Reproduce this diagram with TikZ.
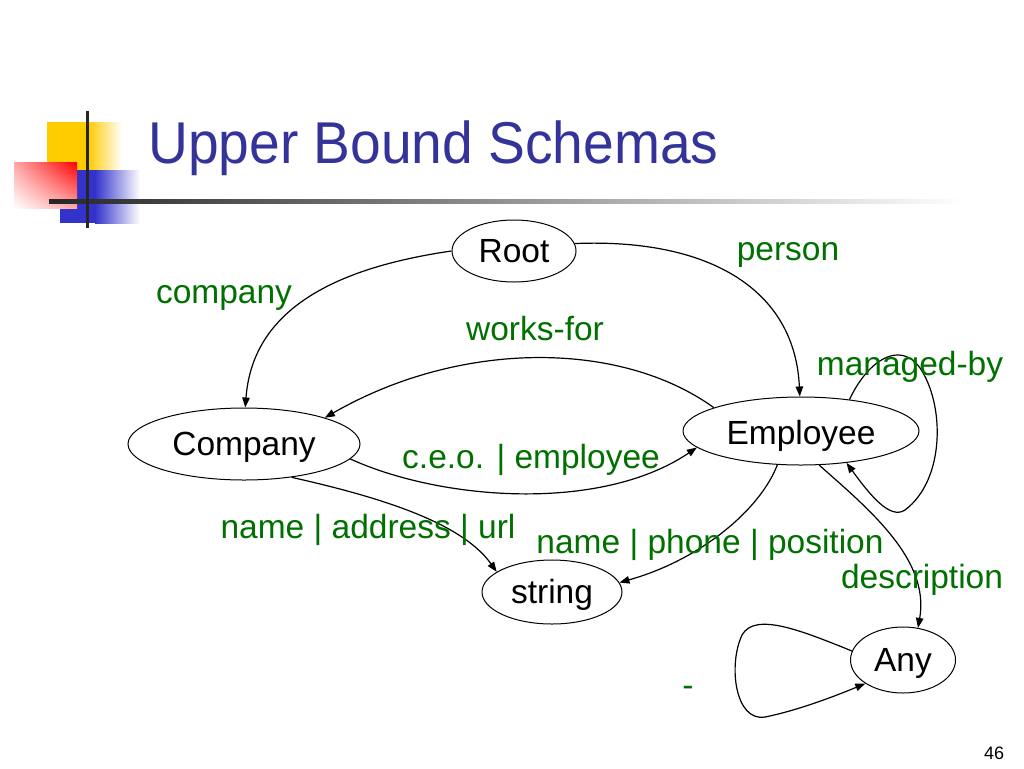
\documentclass[tikz,border=0pt]{standalone}
\usepackage{fontspec}
\setmainfont{Liberation Sans}
\usetikzlibrary{shapes.geometric,arrows.meta,shadings}
\definecolor{titleblue}{RGB}{51,51,153}
\definecolor{lblgreen}{RGB}{0,112,0}
\definecolor{logoyellow}{RGB}{255,204,0}
\definecolor{logoblue}{RGB}{51,51,204}
\definecolor{logored}{RGB}{255,0,0}
\begin{document}
\begin{tikzpicture}[x=1pt,y=-1pt,
  state/.style={ellipse,draw,line width=1pt,inner sep=0pt,text height=26pt,text depth=4pt,
    font=\fontsize{33.5}{40}\selectfont},
  lbl/.style={text=lblgreen,inner sep=0pt,anchor=base,font=\fontsize{33.5}{40}\selectfont},
  edge/.style={line width=1.2pt,-{Triangle[length=10pt,width=7.5pt]}}]
\useasboundingbox (0,0) rectangle (1024,768);
% logo
\fill[logoyellow] (47,122) rectangle (88,170);
\shade[left color=logoyellow, right color=white] (88,122) rectangle (122,170);
\fill[logoblue] (60,170) rectangle (95,223);
\shade[left color=logoblue, right color=white] (95,170) rectangle (140,223);
\shade[upper left=logored!35, upper right=logored, lower left=white, lower right=logored!35] (14,162) rectangle (77,208);
\shade[left color=black!85, right color=white] (49,199) rectangle (965,203);
\draw[line width=3pt, black!85] (87,111) -- (87,228);
% title
\node[anchor=base west, inner sep=0pt, text=titleblue, font=\fontsize{59}{70}\selectfont] (title) at (148,163) {\scalebox{0.935}[1]{Upper Bound Schemas}};
% states
\node[state, minimum width=124pt, minimum height=62pt] (root) at (514,251) {Root};
\node[state, minimum width=232pt, minimum height=72pt] (company) at (244,444) {Company};
\node[state, minimum width=236pt, minimum height=68pt, text height=28pt, text depth=2pt] (employee) at (801,431) {Employee};
\node[state, minimum width=140pt, minimum height=64pt] (string) at (552,592) {string};
\node[state, minimum width=105pt, minimum height=66pt] (any) at (903,660) {Any};
% edges
\draw[edge] (root.180) .. controls (320,270) and (252,318) .. (company.88);
\draw[edge] (root.7) .. controls (710,238) and (795,290) .. (employee.92);
\draw[edge] (employee.165) .. controls (620,340) and (460,340) .. (company.18);
\draw[edge] (company.-8) .. controls (440,500) and (600,513) .. (employee.189);
\draw[edge] (company.-35) .. controls (370,495) and (460,520) .. (string.160);
\draw[edge] (employee.-125) .. controls (760,510) and (700,560) .. (string.8);
\draw[edge] (employee.33) .. controls (868,360) and (900,340) .. (920,368)
  .. controls (945,405) and (945,480) .. (905,510)
  .. controls (890,520) and (870,495) .. (employee.-35);
\draw[edge] (employee.-62) .. controls (870,510) and (930,560) .. (any.65);
\draw[edge] (any.170) .. controls (800,630) and (755,612) .. (742,635)
  .. controls (728,665) and (735,722) .. (765,717)
  .. controls (800,710) and (840,694) .. (any.-148);
% labels
\node[lbl] (l1) at (224,303) {company};
\node[lbl] (l2) at (788,260) {person};
\node[lbl] (l3) at (535,340) {works-for};
\node[lbl] (l4) at (910,375) {managed-by};
\node[lbl] (l5) at (531,468) {c.e.o. | employee};
\node[lbl] (l6) at (368,538) {name | address | url};
\node[lbl] (l7) at (710,553) {name | phone | position};
\node[lbl] (l8) at (922,588) {description};
\node[lbl] (l9) at (688,696) {-};
% page number
\node[anchor=base, inner sep=0pt, font=\fontsize{18}{20}\selectfont] (pnum) at (994,759) {46};
\end{tikzpicture}
\end{document}
